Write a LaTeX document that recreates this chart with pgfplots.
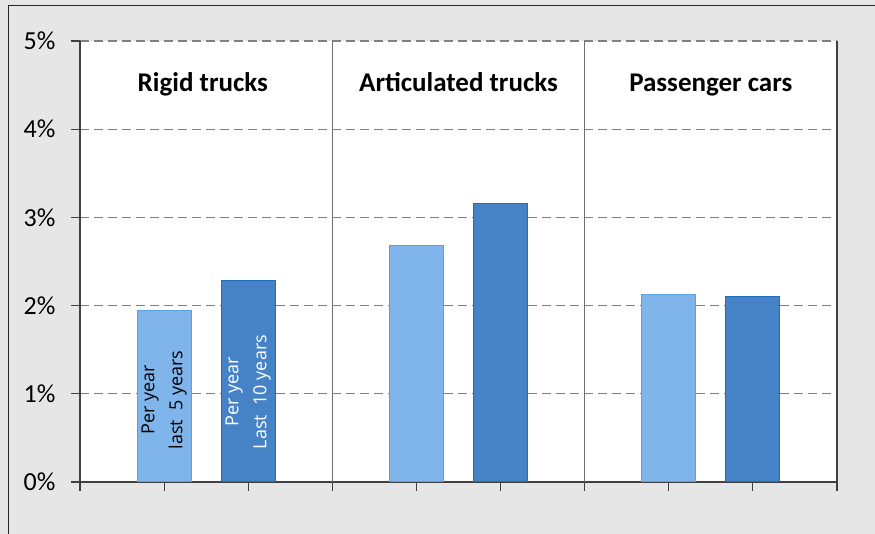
\documentclass[border=0pt]{standalone}
\usepackage{pgfplots}
\pgfplotsset{compat=1.18}
\usepackage{fontspec}
\setmainfont{Carlito}
\newfontfamily\osans{Open Sans}
\definecolor{bglight}{RGB}{230,230,230}
\definecolor{lightbar}{RGB}{127,181,234}
\definecolor{lightedge}{RGB}{91,160,224}
\definecolor{darkbar}{RGB}{70,131,198}
\definecolor{darkedge}{RGB}{30,110,190}
\definecolor{axisgray}{RGB}{64,64,64}
\definecolor{gridgray}{RGB}{128,128,128}
\definecolor{sepgray}{RGB}{110,110,110}
\begin{document}
\begin{tikzpicture}[x=1bp,y=1bp]
\path[use as bounding box] (0,0) rectangle (875,534);
\fill[bglight] (0,0) rectangle (875,534);
\draw[black!85, line width=1bp] (8,-5) -- (8,528) -- (880,528);
\begin{axis}[at={(80bp,52bp)}, anchor=south west, scale only axis,
  width=757bp, height=441bp,
  xmin=0, xmax=9, ymin=0, ymax=5,
  axis background/.style={fill=white},
  axis lines=left,
  axis line style={-, axisgray, line width=1.2bp},
  xtick={0,1,2,3,4,5,6,7,8,9}, xticklabels={},
  ytick={0,1,2,3,4,5},
  yticklabels={0\%,1\%,2\%,3\%,4\%,5\%},
  tick align=outside, major tick length=9bp,
  tick style={axisgray, line width=1.2bp},
  ymajorgrids,
  grid style={gridgray, dash pattern=on 9bp off 5bp, line width=1.3bp},
  yticklabel style={font=\fontsize{26bp}{30bp}\selectfont, anchor=east, xshift=-12bp},
  bar width=0.64,
  clip=false]
\addplot[ybar, bar shift=0pt, fill=lightbar, draw=lightedge, line width=1bp]
  coordinates {(1,1.95) (4,2.68) (7,2.13)};
\addplot[ybar, bar shift=0pt, fill=darkbar, draw=darkedge, line width=1bp]
  coordinates {(2,2.29) (5,3.16) (8,2.10)};
\draw[sepgray, line width=1.5bp] (axis cs:3,5) -- (axis cs:3,0);
\draw[sepgray, line width=1.5bp] (axis cs:6,5) -- (axis cs:6,0);
\draw[axisgray, line width=1.2bp] (axis cs:9,0) -- (axis cs:9,5);
\node[font=\bfseries\fontsize{27bp}{30bp}\selectfont, anchor=base] at (axis cs:1.46,4.43) {Rigid trucks};
\node[font=\bfseries\fontsize{27bp}{30bp}\selectfont, anchor=base] at (axis cs:4.5,4.43) {Articulated trucks};
\node[font=\bfseries\fontsize{27bp}{30bp}\selectfont, anchor=base] at (axis cs:7.5,4.43) {Passenger cars};
\node[rotate=90, align=center, font=\osans\fontsize{18bp}{28bp}\selectfont, text=black] at (axis cs:1,0.93) {Per year\\last\ \ 5 years};
\node[rotate=90, align=center, font=\osans\fontsize{18bp}{28bp}\selectfont, text=white] at (axis cs:2,1.02) {Per year\\Last\ \ 10 years};
\end{axis}
\end{tikzpicture}
\end{document}
